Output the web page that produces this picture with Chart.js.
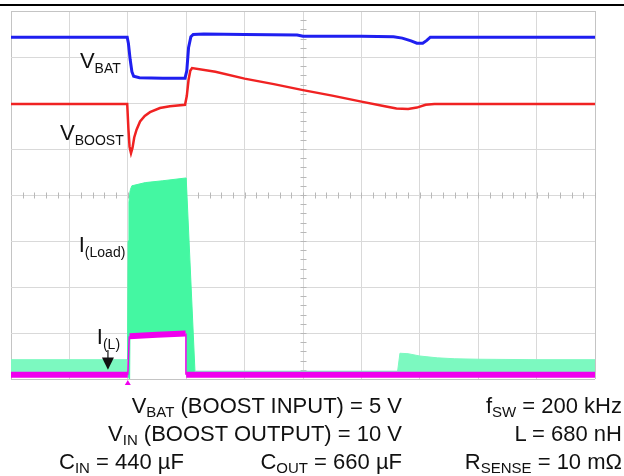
<!DOCTYPE html>
<html>
<head>
<meta charset="utf-8">
<script src="https://cdn.jsdelivr.net/npm/chart.js@4.4.1/dist/chart.umd.min.js"></script>
<style>
  html, body { margin:0; padding:0; background:#fff; }
  #wrap { position:relative; width:624px; height:476px; overflow:hidden; font-family:"Liberation Sans", Arial, Helvetica, sans-serif; color:#111; }
  #topline { position:absolute; left:0; top:4px; width:624px; height:0; border-top:2px solid #000; }
  canvas { position:absolute; left:0; top:0; }
  .t { position:absolute; font-size:22px; line-height:22px; white-space:nowrap; }
  .t sub { font-size:15px; vertical-align:baseline; position:relative; top:4px; }
  .r1 { right:222px; } .r2 { right:2px; }
</style>
</head>
<body>
<div id="wrap">
  <div id="topline"></div>
  <canvas id="c" width="624" height="476"></canvas>
  <div class="t r1" style="top:395px">V<sub>BAT</sub> (BOOST INPUT) = 5 V</div>
  <div class="t r2" style="top:395px">f<sub>SW</sub> = 200 kHz</div>
  <div class="t r1" style="top:423px">V<sub>IN</sub> (BOOST OUTPUT) = 10 V</div>
  <div class="t r2" style="top:423px">L = 680 nH</div>
  <div class="t" style="top:451px; left:59px">C<sub>IN</sub> = 440 µF</div>
  <div class="t r1" style="top:451px">C<sub>OUT</sub> = 660 µF</div>
  <div class="t r2" style="top:451px">R<sub>SENSE</sub> = 10 mΩ</div>
</div>
<script>
// time in divisions (0..10), amplitude in divisions from bottom (0..8)
const vbatT = [0, 1.0, 1.99, 2.01, 2.04, 2.07, 2.10, 2.2, 2.6, 2.98, 3.01, 3.04, 3.08, 3.12, 3.3, 4.0, 4.9, 5.0, 6.0, 6.55, 6.7, 6.85, 6.95, 7.05, 7.12, 7.18, 8.0, 9.0, 10.0];
const vbatV = [7.43, 7.43, 7.43, 7.30, 6.95, 6.68, 6.58, 6.55, 6.54, 6.54, 6.70, 7.20, 7.44, 7.49, 7.50, 7.49, 7.48, 7.45, 7.45, 7.44, 7.41, 7.35, 7.30, 7.30, 7.36, 7.43, 7.43, 7.43, 7.43];

const vboostT = [0, 1.0, 1.99, 2.01, 2.03, 2.055, 2.08, 2.11, 2.15, 2.21, 2.29, 2.38, 2.55, 2.72, 2.98, 3.01, 3.04, 3.07, 3.10, 3.5, 4.0, 4.5, 5.0, 5.5, 6.0, 6.4, 6.6, 6.8, 6.95, 7.1, 7.25, 8.0, 10.0];
const vboostV = [5.98, 5.98, 5.98, 5.45, 5.05, 4.91, 5.02, 5.25, 5.42, 5.60, 5.72, 5.80, 5.89, 5.93, 5.96, 6.15, 6.50, 6.70, 6.76, 6.68, 6.53, 6.41, 6.28, 6.16, 6.03, 5.93, 5.88, 5.87, 5.90, 5.96, 5.98, 5.98, 5.98];

// inductor current: thick band segments (null = gap) and thin switching edges
const ilT = [0, 2.0, 2.0, 2.03, 2.5, 2.99, 2.99, 3.0, 10];
const ilV = [0.09, 0.09, null, 0.93, 0.96, 0.99, null, 0.09, 0.09];
const ilEdgeT = [2.0, 2.025, 2.5, 2.995, 2.995];
const ilEdgeV = [0.09, 0.93, null, 0.99, 0.09];

const iloadT     = [0, 1.0, 1.995, 2.005, 2.02, 2.04, 2.045, 2.07, 2.3, 2.6, 2.995, 3.0, 3.15, 4.0, 5.0, 6.0, 6.62, 6.66, 6.8, 7.0, 7.3, 7.6, 8.0, 9.0, 10];
const iloadUpper = [0.42, 0.42, 0.42, 3.0, 3.85, 4.1, 4.12, 4.2, 4.27, 4.31, 4.37, 4.37, 0.17, 0.17, 0.17, 0.17, 0.17, 0.56, 0.55, 0.50, 0.46, 0.44, 0.43, 0.42, 0.42];
const iloadLower = [0.06, 0.06, 0.06, 0.0, 0.0, 0.0, 0.95, 0.95, 0.97, 0.98, 1.0, 0.06, 0.06, 0.06, 0.06, 0.06, 0.06, 0.06, 0.06, 0.06, 0.06, 0.06, 0.06, 0.06, 0.06];

const xDivs = [0, 10];
const yDivs = [0, 8];

const traceLabels = [
  { main: 'V', sub: 'BAT',   t: 1.18, v: 6.76 },
  { main: 'V', sub: 'BOOST', t: 0.84, v: 5.20 },
  { main: 'I', sub: '(Load)',t: 1.16, v: 2.76 },
  { main: 'I', sub: '(L)',   t: 1.47, v: 0.76 }
];

const pts = (xs, ys) => xs.map((x, i) => ({ x: x, y: ys[i] }));

const BLUE = '#1f1ff0', RED = '#f02222', GREEN = '#44f7a2', GREEN_NOISE = '#7cf9c0', PINK = '#f000ee';
const inPulse = c => c.p0.parsed.x >= 1.99 && c.p1.parsed.x <= 3.16;

const decor = {
  id: 'decor',
  beforeDatasetsDraw(chart) {
    const { ctx, scales: { x, y } } = chart;
    ctx.save();
    ctx.strokeStyle = '#b8b8b8';
    ctx.lineWidth = 1;
    const cx = Math.round(x.getPixelForValue(5)) + 0.5;
    const cy = Math.round(y.getPixelForValue(4)) + 0.5;
    ctx.beginPath();
    for (let v = 0.2; v < 8; v += 0.2) {
      const py = Math.round(y.getPixelForValue(v)) + 0.5;
      ctx.moveTo(cx - 3, py); ctx.lineTo(cx + 3, py);
    }
    for (let t = 0.2; t < 10; t += 0.2) {
      const px = Math.round(x.getPixelForValue(t)) + 0.5;
      ctx.moveTo(px, cy - 3); ctx.lineTo(px, cy + 3);
    }
    ctx.stroke();
    ctx.restore();
  },
  afterDatasetsDraw(chart) {
    const { ctx, scales: { x, y }, chartArea } = chart;
    ctx.save();
    ctx.fillStyle = '#111';
    ctx.textBaseline = 'alphabetic';
    traceLabels.forEach(l => {
      const px = x.getPixelForValue(l.t), py = y.getPixelForValue(l.v);
      ctx.font = '22px "Liberation Sans", Arial, sans-serif';
      ctx.fillText(l.main, px, py);
      const w = ctx.measureText(l.main).width;
      ctx.font = '14px "Liberation Sans", Arial, sans-serif';
      ctx.fillText(l.sub, px + w, py + 5);
    });
    // arrow pointing at I(L)
    const ax = x.getPixelForValue(1.66);
    ctx.strokeStyle = '#111'; ctx.lineWidth = 1.2;
    ctx.beginPath(); ctx.moveTo(ax, y.getPixelForValue(0.63)); ctx.lineTo(ax, y.getPixelForValue(0.45)); ctx.stroke();
    ctx.beginPath();
    ctx.moveTo(ax - 6, y.getPixelForValue(0.47));
    ctx.lineTo(ax + 6, y.getPixelForValue(0.47));
    ctx.lineTo(ax, y.getPixelForValue(0.20));
    ctx.closePath(); ctx.fill();
    // trigger marker
    const tx = x.getPixelForValue(2.0);
    ctx.fillStyle = PINK;
    ctx.beginPath();
    ctx.moveTo(tx, chartArea.bottom + 1);
    ctx.lineTo(tx - 3, chartArea.bottom + 6);
    ctx.lineTo(tx + 3, chartArea.bottom + 6);
    ctx.closePath(); ctx.fill();
    ctx.restore();
  }
};

const gridColor = (ctx, lastVal) => (ctx.tick && (ctx.tick.value === 0 || ctx.tick.value === lastVal)) ? '#c4c4c4' : '#d9d9d9';

new Chart(document.getElementById('c'), {
  type: 'line',
  data: {
    datasets: [
      { label: 'I(L)', data: pts(ilT, ilV), borderColor: PINK, borderWidth: 6, pointRadius: 0, tension: 0, spanGaps: false, order: 0 },
      { label: 'I(L) edges', data: pts(ilEdgeT, ilEdgeV), borderColor: PINK, borderWidth: 1.5, pointRadius: 0, tension: 0, spanGaps: false, order: 0 },
      { label: 'VBAT', data: pts(vbatT, vbatV), borderColor: BLUE, borderWidth: 3, pointRadius: 0, tension: 0, order: 1 },
      { label: 'VBOOST', data: pts(vboostT, vboostV), borderColor: RED, borderWidth: 2.5, pointRadius: 0, tension: 0, order: 2 },
      { label: 'I(Load)', data: pts(iloadT, iloadUpper), borderColor: GREEN, backgroundColor: GREEN, borderWidth: 1, pointRadius: 0, tension: 0, fill: 5, order: 3,
        segment: {
          backgroundColor: c => inPulse(c) ? GREEN : GREEN_NOISE,
          borderColor: c => inPulse(c) ? GREEN : GREEN_NOISE
        } },
      { label: 'I(Load) low', data: pts(iloadT, iloadLower), borderColor: 'rgba(0,0,0,0)', borderWidth: 0, pointRadius: 0, tension: 0, fill: false, order: 4 }
    ]
  },
  options: {
    responsive: false,
    animation: false,
    devicePixelRatio: 1,
    layout: { padding: { left: 11, top: 11, right: 29, bottom: 97 } },
    plugins: { legend: { display: false }, tooltip: { enabled: false } },
    scales: {
      x: {
        type: 'linear', min: xDivs[0], max: xDivs[1],
        ticks: { display: false, stepSize: 1 },
        grid: { color: c => gridColor(c, xDivs[1]), drawTicks: false, lineWidth: 1 },
        border: { display: false }
      },
      y: {
        type: 'linear', min: yDivs[0], max: yDivs[1],
        ticks: { display: false, stepSize: 1 },
        grid: { color: c => gridColor(c, yDivs[1]), drawTicks: false, lineWidth: 1 },
        border: { display: false }
      }
    }
  },
  plugins: [decor]
});
</script>
</body>
</html>
